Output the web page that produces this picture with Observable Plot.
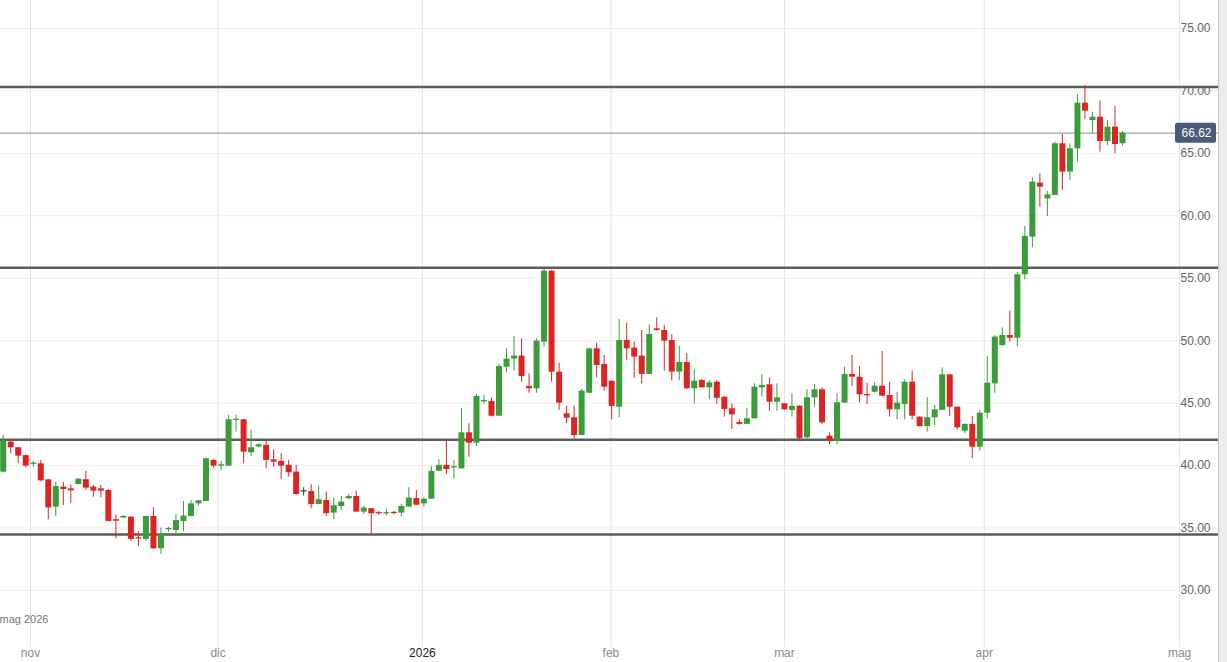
<!DOCTYPE html>
<html>
<head>
<meta charset="utf-8">
<script src="https://cdn.jsdelivr.net/npm/d3@7"></script>
<script src="https://cdn.jsdelivr.net/npm/@observablehq/plot@0.6"></script>
<style>
  html, body { margin: 0; padding: 0; background: #fff; overflow: hidden; }
  #wrap { display: flex; width: 1227px; height: 662px; }
  #chart svg { display: block; }
  #strip { width: 8px; height: 662px; background: #ececec; border-left: 1px solid #c4c4c4; }
</style>
</head>
<body>
<div id="wrap"><div id="chart"></div><div id="strip"></div></div>
<script>
// ---- Data ----
const open = [
  39.48,41.88,41.43,40.80,40.10,40.15,38.86,36.68,38.28,38.14,
  38.49,38.87,38.28,38.14,38.01,35.67,35.80,35.88,34.22,34.09,
  35.93,33.34,34.87,34.81,35.53,35.93,36.94,37.13,40.42,39.96,
  39.96,43.62,43.67,41.03,41.49,41.62,40.47,40.34,40.02,39.48,
  37.94,37.93,36.89,37.21,36.20,36.73,37.35,37.53,36.28,36.55,
  36.23,36.15,36.25,36.20,36.68,37.36,36.94,37.31,39.56,40.01,
  39.85,39.74,42.63,41.80,45.13,45.14,43.96,47.88,48.53,48.77,
  46.34,46.15,49.89,55.57,47.48,44.15,43.83,42.41,45.80,49.35,
  48.10,46.76,44.68,50.02,49.41,48.77,47.30,50.95,50.82,50.02,
  47.49,48.26,46.15,46.82,46.23,46.68,45.48,44.55,43.45,43.30,
  43.75,46.23,46.47,45.08,44.95,44.42,44.76,42.23,45.43,46.07,
  42.36,41.93,45.00,47.30,47.08,45.67,45.88,46.36,45.62,44.47,
  44.90,46.68,43.88,43.13,43.83,44.42,47.27,44.68,42.76,43.30,
  41.48,44.20,46.55,49.62,50.42,50.20,55.28,58.30,62.62,61.36,
  61.63,65.77,63.50,65.37,69.02,67.63,67.90,65.95,67.10,65.77
];
const high = [
  42.41,42.00,41.45,40.85,40.35,40.40,38.90,38.68,38.68,38.46,
  38.97,39.53,38.41,38.41,38.09,36.06,36.00,35.90,34.73,35.96,
  36.62,35.00,35.07,36.09,37.13,37.20,37.22,40.60,40.47,40.34,
  44.02,44.02,43.70,42.82,41.75,42.07,41.27,40.95,40.42,40.02,
  38.23,38.47,38.36,37.88,37.40,37.53,37.67,37.96,36.73,36.55,
  36.33,36.47,36.33,36.89,38.23,38.00,37.40,39.93,40.47,42.00,
  40.41,44.55,43.35,45.70,45.62,45.43,48.15,49.35,50.34,50.15,
  47.35,50.15,55.76,55.60,48.20,44.76,44.76,46.10,49.40,49.80,
  48.82,46.76,51.70,51.41,49.89,50.82,51.27,51.84,51.22,50.47,
  49.54,48.95,47.67,46.90,46.82,46.82,45.50,44.95,43.67,44.55,
  46.55,47.30,47.03,46.55,44.98,45.75,44.80,46.07,46.50,46.23,
  42.63,45.75,47.88,48.82,47.94,46.60,46.63,49.14,46.68,45.88,
  46.87,47.56,43.90,45.43,44.82,47.83,47.30,44.70,43.35,43.93,
  44.42,48.74,50.40,51.03,52.37,55.49,59.15,63.04,63.36,61.95,
  65.90,66.51,65.77,69.72,70.44,68.30,69.18,67.63,68.75,66.75
];
const low = [
  39.40,40.95,40.15,39.80,39.90,38.70,35.66,35.93,36.81,37.00,
  38.46,38.01,37.48,37.42,35.50,34.14,35.80,33.95,33.53,33.95,
  33.30,32.90,34.68,34.49,34.73,35.90,36.76,37.13,39.80,39.62,
  39.96,42.68,40.15,40.74,41.43,39.75,39.88,38.90,39.08,37.64,
  37.56,36.55,36.89,35.93,35.67,36.41,37.27,36.28,36.09,34.41,
  36.01,35.96,36.07,35.88,36.68,36.80,36.70,37.31,39.50,39.29,
  38.94,39.74,40.68,41.53,44.90,43.90,43.96,47.43,47.56,46.68,
  45.80,45.80,49.49,46.68,44.42,43.35,42.15,42.41,45.75,47.03,
  45.97,43.67,43.83,48.42,47.00,46.55,47.30,50.77,47.57,46.77,
  46.82,46.10,44.95,46.23,45.27,44.90,43.88,42.90,43.24,43.30,
  43.75,45.48,44.36,44.36,44.42,43.88,42.07,42.15,44.68,43.30,
  41.67,41.67,45.00,46.34,45.03,44.90,45.83,45.50,43.88,43.67,
  43.67,43.67,43.08,42.68,43.22,44.42,43.93,42.87,42.55,40.55,
  41.16,43.75,45.80,49.54,49.89,49.54,54.88,57.44,60.70,59.95,
  61.63,62.03,62.83,64.30,67.69,66.57,65.10,65.63,64.97,65.58
];
const close = [
  41.96,41.43,40.76,39.96,40.20,38.78,36.62,38.33,38.09,37.98,
  38.92,38.20,37.96,37.96,35.53,35.55,35.93,34.09,34.12,35.93,
  33.34,34.49,34.97,35.60,35.96,36.94,37.18,40.55,39.96,40.07,
  43.67,43.70,41.08,41.43,41.67,40.42,40.28,39.96,39.43,37.69,
  37.94,36.89,37.27,36.15,36.79,37.08,37.53,36.28,36.60,36.15,
  36.15,36.23,36.17,36.73,37.40,36.83,37.31,39.53,40.01,39.69,
  39.88,42.63,41.80,45.54,45.19,43.96,47.94,48.53,48.77,47.14,
  46.15,49.97,55.57,47.48,45.00,43.80,42.41,45.96,49.35,48.02,
  46.28,44.74,50.02,49.35,48.69,47.30,50.50,50.82,49.97,47.49,
  48.26,46.15,46.76,46.23,46.63,45.40,44.50,44.07,43.30,43.75,
  46.28,46.42,45.08,45.43,44.47,44.74,42.15,45.43,46.07,43.43,
  41.93,45.03,47.30,47.08,45.67,45.62,46.36,45.56,44.47,45.00,
  46.68,43.96,43.13,43.83,44.47,47.27,44.68,43.03,43.30,41.48,
  44.20,46.60,50.29,50.42,50.20,55.28,58.35,62.70,62.30,61.68,
  65.77,63.50,65.37,69.02,68.38,67.90,65.95,67.10,65.71,66.62
];
// month boundaries on the bar-index axis
const monthLabels = ["nov", "dic", "2026", "feb", "mar", "apr", "mag"];
const monthAt = [3.63, 28.6, 55.8, 80.9, 104.0, 130.6, 156.6];
const priceTicks = [30, 35, 40, 45, 50, 55, 60, 65, 70, 75];
const levels = [70.32, 55.84, 42.08, 34.49];
const lastPrice = 66.62;
const periodLabel = "mag 2026";

// ---- Build table ----
const GREEN = "#3a9d3a", RED = "#dd2424", NEUTRAL = "#333";
const bars = open.map((o, i) => {
  const c = close[i];
  const lo = Math.min(o, c), hi = Math.max(o, c);
  const pad = hi - lo < 0.1 ? (0.1 - (hi - lo)) / 2 : 0;
  return {
    i, open: o, high: high[i], low: low[i], close: c,
    b1: lo - pad, b2: hi + pad,
    color: c > o ? GREEN : c < o ? RED : NEUTRAL
  };
});
const months = monthLabels.map((label, k) => ({label, at: monthAt[k]}));

const font = "'Liberation Sans', Arial, Helvetica, sans-serif";

const chart = Plot.plot({
  width: 1218,
  height: 662,
  marginTop: 0,
  marginBottom: 22,
  marginLeft: 0,
  marginRight: 0,
  style: {fontFamily: font, background: "#fff"},
  x: {type: "linear", domain: [-0.36, 161.78], axis: null},
  y: {domain: [26.0, 77.24], axis: null},
  marks: [
    Plot.ruleY(priceTicks, {stroke: "#ededed", strokeWidth: 1}),
    Plot.ruleX(months, {x: "at", stroke: "#e4e4e4", strokeWidth: 1, insetBottom: -7}),
    Plot.text(priceTicks, {
      y: d => d, text: d => d.toFixed(2), frameAnchor: "right", dx: -38,
      textAnchor: "start", fill: "#666", fontSize: 12
    }),
    Plot.text(months, {
      x: "at", text: "label", frameAnchor: "bottom", dy: 16,
      fill: d => d.label === "2026" ? "#222" : "#8a8a8a", fontSize: 12
    }),
    Plot.text([periodLabel], {
      text: d => d, frameAnchor: "bottom-left", dy: -18, dx: -1,
      textAnchor: "start", fill: "#777", fontSize: 11
    }),
    Plot.ruleY(levels, {stroke: "#5c5c5c", strokeWidth: 2.5}),
    Plot.ruleY([lastPrice], {stroke: "#8c8c8c", strokeWidth: 1}),
    Plot.ruleX(bars, {x: "i", y1: "low", y2: "high", stroke: "color", strokeWidth: 1}),
    Plot.ruleX(bars, {x: "i", y1: "b1", y2: "b2", stroke: "color", strokeWidth: 6}),
    Plot.text([lastPrice], {
      y: d => d, text: d => d.toFixed(2), frameAnchor: "right", dx: -22,
      textAnchor: "middle", fill: "#fff", fontSize: 12, fontWeight: 500,
      className: "badge-text"
    })
  ]
});

document.getElementById("chart").appendChild(chart);

// badge background behind the last-price label (inserted at svg level, before the label group)
const yPix = chart.scale("y").apply(lastPrice);
const badgeG = chart.querySelector(".badge-text");
const rect = document.createElementNS("http://www.w3.org/2000/svg", "rect");
rect.setAttribute("x", 1218 - 43);
rect.setAttribute("y", yPix - 10);
rect.setAttribute("width", 41);
rect.setAttribute("height", 20);
rect.setAttribute("rx", 2);
rect.setAttribute("fill", "#4a5a7a");
if (badgeG) chart.insertBefore(rect, badgeG); else chart.appendChild(rect);
</script>
</body>
</html>
